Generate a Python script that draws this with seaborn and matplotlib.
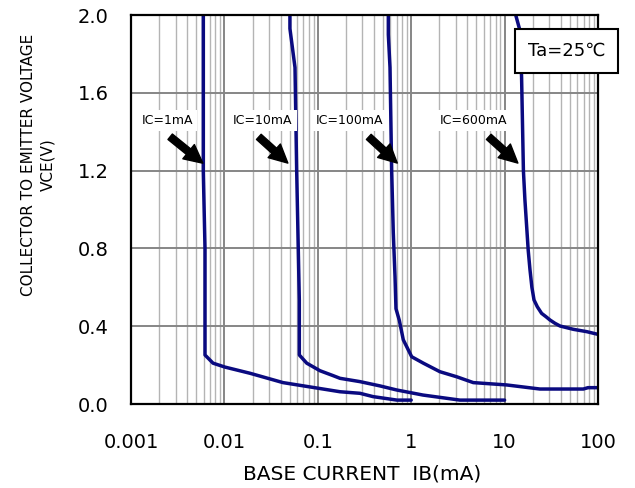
import numpy as np
import matplotlib
matplotlib.use('Agg')
import matplotlib.pyplot as plt
from matplotlib.ticker import FixedLocator, FixedFormatter, LogLocator, NullFormatter
import pandas as pd
import seaborn as sns

# curves: IB (mA) vs VCE (V)
ic_labels = ['IC=1mA', 'IC=10mA', 'IC=100mA', 'IC=600mA']

ib_1 = [0.00594, 0.00594, 0.0062, 0.0062, 0.00755, 0.0101, 0.0188, 0.0424, 0.098, 0.173, 0.283, 0.39, 0.705, 1.0]
vce_1 = [2.0, 1.2, 0.8, 0.252, 0.21, 0.19, 0.158, 0.11, 0.082, 0.063, 0.055, 0.038, 0.02, 0.02]

ib_2 = [0.0503, 0.0503, 0.0570, 0.0594, 0.0634, 0.0634, 0.0761, 0.1056, 0.1455, 0.173, 0.283, 0.463, 0.700, 1.337, 3.33, 10.0]
vce_2 = [2.0, 1.93, 1.73, 1.2, 0.535, 0.252, 0.21, 0.171, 0.146, 0.132, 0.115, 0.093, 0.072, 0.046, 0.02, 0.02]

ib_3 = [0.569, 0.569, 0.593, 0.618, 0.643, 0.671, 0.687, 0.746, 0.823, 1.012, 1.348, 2.03, 3.07, 4.62, 10.5, 23.9, 69.6, 78.2, 100]
vce_3 = [2.0, 1.9, 1.73, 1.2, 0.88, 0.655, 0.49, 0.43, 0.33, 0.243, 0.21, 0.166, 0.14, 0.11, 0.098, 0.077, 0.077, 0.084, 0.084]

ib_4 = [13.15, 14.6, 15.2, 15.9, 16.5, 17.9, 18.7, 19.6, 20.65, 22.4, 24.9, 27.7, 30.6, 34.6, 39.2, 54.4, 75.7, 100]
vce_4 = [2.0, 1.92, 1.68, 1.2, 1.05, 0.79, 0.69, 0.6, 0.535, 0.5, 0.466, 0.449, 0.432, 0.415, 0.401, 0.384, 0.372, 0.358]

x_ticks = [0.001, 0.01, 0.1, 1, 10, 100]
x_ticklabels = ['0.001', '0.01', '0.1', '1', '10', '100']
y_ticks = [0.0, 0.4, 0.8, 1.2, 1.6, 2.0]
y_ticklabels = ['0.0', '0.4', '0.8', '1.2', '1.6', '2.0']

# label text position, arrow tail, arrow tip (data coords)
label_xy = [(0.00243, 1.424), (0.0257, 1.424), (0.221, 1.424), (4.70, 1.424)]
arrow_tail = [(0.00249, 1.383), (0.0222, 1.383), (0.334, 1.383), (6.43, 1.383)]
arrow_tip = [(0.0062, 1.229), (0.0503, 1.229), (0.746, 1.229), (14.6, 1.229)]

#%%
frames = []
for lab, ib, v in zip(ic_labels, [ib_1, ib_2, ib_3, ib_4], [vce_1, vce_2, vce_3, vce_4]):
    frames.append(pd.DataFrame({'IB': ib, 'VCE': v, 'IC': lab}))
df = pd.concat(frames, ignore_index=True)

sns.set_style('white')
plt.rcParams['font.family'] = ['DejaVu Sans']
plt.rcParams['text.color'] = 'black'
plt.rcParams['xtick.color'] = 'black'
plt.rcParams['ytick.color'] = 'black'

fig = plt.figure(figsize=(6.35, 4.88), dpi=100)
ax = fig.add_axes([131/635, 84/488, 467/635, 389/488])

sns.lineplot(data=df, x='IB', y='VCE', units='IC', estimator=None, sort=False,
             color='#0a0a80', lw=2.5, ax=ax, legend=False)

ax.set_xscale('log')
ax.set_xlim(0.001, 100)
ax.set_ylim(0, 2.0)

ax.xaxis.set_major_locator(FixedLocator(x_ticks))
ax.xaxis.set_major_formatter(FixedFormatter(x_ticklabels))
ax.xaxis.set_minor_locator(LogLocator(base=10, subs=np.arange(2, 10)))
ax.xaxis.set_minor_formatter(NullFormatter())
ax.yaxis.set_major_locator(FixedLocator(y_ticks))
ax.yaxis.set_major_formatter(FixedFormatter(y_ticklabels))

ax.grid(which='major', axis='both', color='#868686', lw=1.4)
ax.grid(which='minor', axis='x', color='#b4b4b4', lw=1.0)
ax.set_axisbelow(True)

ax.tick_params(axis='x', which='both', length=0, pad=21, labelsize=14, labelcolor='black')
ax.tick_params(axis='y', which='both', length=0, pad=16, labelsize=14, labelcolor='black')

for s in ax.spines.values():
    s.set_color('black')
    s.set_linewidth(1.6)
    s.set_visible(True)

ax.set_xlabel('')
ax.set_ylabel('')
fig.text(362/635, 1 - 474/488, 'BASE CURRENT  IB(mA)', ha='center', va='center', fontsize=14.5)
fig.text(38/635, 1 - 165/488, 'COLLECTOR TO EMITTER VOLTAGE\nVCE(V)', ha='center', va='center',
         rotation=90, multialignment='center', fontsize=11, linespacing=1.35)

for lab, txy, tail, tip in zip(ic_labels, label_xy, arrow_tail, arrow_tip):
    ax.text(txy[0], txy[1], lab, ha='center', va='bottom', fontsize=9,
            bbox=dict(boxstyle='square,pad=0.35', fc='white', ec='none'), zorder=4)
    ax.annotate('', xy=tip, xytext=tail,
                arrowprops=dict(arrowstyle='simple,head_width=1.1,head_length=1.1,tail_width=0.42',
                                fc='black', ec='black', mutation_scale=12), zorder=5)

ax.text(0.9325, 0.9075, 'Ta=25\u2103', transform=ax.transAxes, ha='center', va='center',
        fontsize=13, clip_on=False, zorder=6,
        bbox=dict(boxstyle='square,pad=0.72', fc='white', ec='black', lw=1.5))

plt.savefig('out.png', dpi=100)
